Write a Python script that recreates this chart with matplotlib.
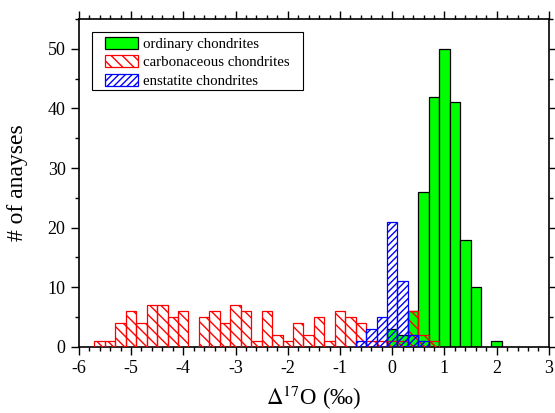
import numpy as np
import matplotlib.pyplot as plt
from matplotlib.patches import Rectangle
from matplotlib.ticker import MultipleLocator

plt.rcParams['font.family'] = ['Liberation Serif', 'DejaVu Serif']
plt.rcParams['mathtext.fontset'] = 'stix'
plt.rcParams['axes.unicode_minus'] = False
plt.rcParams['hatch.linewidth'] = 1.0

# bin centres (bin width 0.2 permil) and counts
ord_x = [0.0, 0.2, 0.4, 0.6, 0.8, 1.0, 1.2, 1.4, 1.6, 2.0]
ord_n = [3, 2, 6, 26, 42, 50, 41, 18, 10, 1]

carb_x = [-5.6, -5.4, -5.2, -5.0, -4.8, -4.6, -4.4, -4.2, -4.0,
          -3.6, -3.4, -3.2, -3.0, -2.8, -2.6, -2.4, -2.2, -2.0,
          -1.8, -1.6, -1.4, -1.2, -1.0, -0.8, -0.6, -0.4, -0.2,
          0.0, 0.2, 0.4, 0.6, 0.8]
carb_n = [1, 1, 4, 6, 4, 7, 7, 5, 6,
          5, 6, 4, 7, 6, 1, 6, 2, 1,
          4, 2, 5, 1, 6, 5, 4, 1, 1,
          1, 1, 6, 2, 1]

enst_x = [-0.6, -0.4, -0.2, 0.0, 0.2, 0.4, 0.6]
enst_n = [1, 3, 5, 21, 11, 2, 1]

bw = 0.2

fig, ax = plt.subplots(figsize=(5.55, 4.13), dpi=100)
fig.subplots_adjust(left=0.142, right=0.989, bottom=0.16, top=0.954)

ax.bar(ord_x, ord_n, width=bw, color='#00ff00', edgecolor='black',
       linewidth=0.9, label='ordinary chondrites', zorder=2)
ax.bar(carb_x, carb_n, width=bw, facecolor='none', edgecolor='red',
       hatch='\\\\\\', linewidth=0.9, label='carbonaceous chondrites', zorder=3)
ax.bar(enst_x, enst_n, width=bw, facecolor='none', edgecolor='blue',
       hatch='/////', linewidth=0.9, label='enstatite chondrites', zorder=4)

ax.set_xlim(-6, 3)
ax.set_ylim(0, 55)
ax.xaxis.set_major_locator(MultipleLocator(1))
ax.xaxis.set_minor_locator(MultipleLocator(0.2))
ax.yaxis.set_major_locator(MultipleLocator(10))
ax.yaxis.set_minor_locator(MultipleLocator(5))
ax.tick_params(which='both', direction='out', top=True, right=True,
               labelsize=13, width=1)
ax.tick_params(which='major', length=6)
ax.tick_params(which='minor', length=3)
for s in ax.spines.values():
    s.set_linewidth(1.2)

ax.set_xlabel('$\\Delta^{17}$O (\u2030)', fontsize=16.5)
ax.set_ylabel('# of anayses', fontsize=17)
ax.xaxis.set_label_coords(0.5, -0.112)
ax.yaxis.set_label_coords(-0.108, 0.5)

# legend box: wider side padding than matplotlib's uniform borderpad
ax.add_patch(Rectangle((0.028, 0.7835), 0.449, 0.1765, transform=ax.transAxes,
                       facecolor='white', edgecolor='black', linewidth=0.8,
                       zorder=5))
leg = ax.legend(loc='upper left', bbox_to_anchor=(0.0553, 0.946), fontsize=10.7,
                frameon=False, handlelength=2.25, handleheight=0.85,
                borderpad=0, labelspacing=0.3, handletextpad=0.3,
                borderaxespad=0)
leg.set_zorder(6)

fig.savefig('out.png', dpi=100)
